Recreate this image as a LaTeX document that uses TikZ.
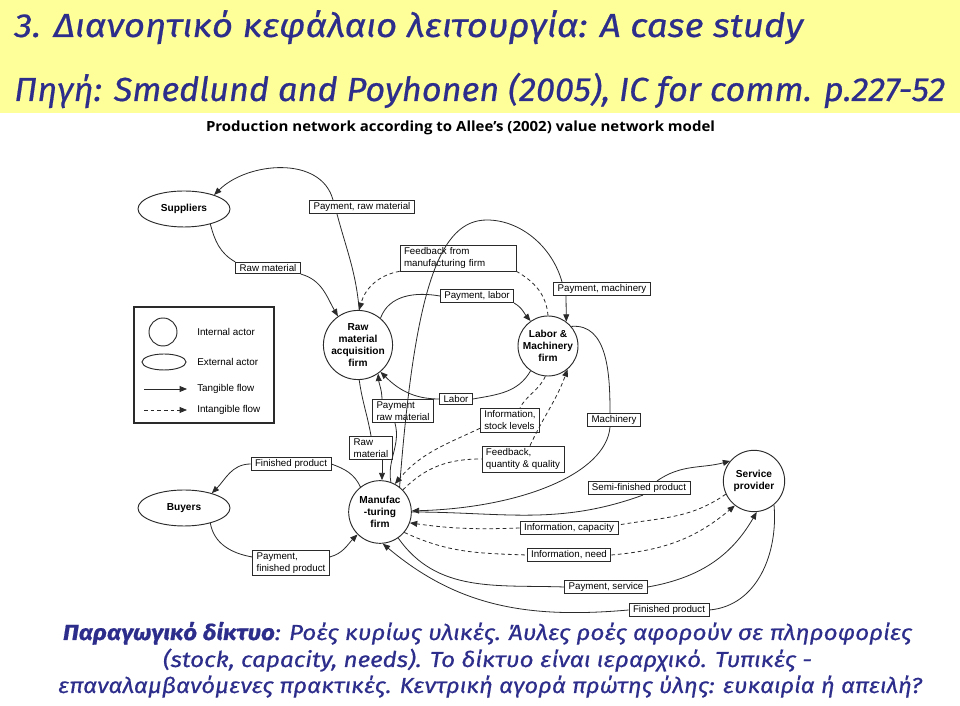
\documentclass[tikz,border=0pt]{standalone}
\usepackage{fontspec}
\usepackage{graphicx}
\setmainfont{Liberation Sans}
\newfontfamily\fira{Fira Sans}[FakeBold=0.5]
\newfontfamily\osans{Open Sans}
\usetikzlibrary{shapes.geometric,arrows.meta}
\newdimen\pxu \pxu=0.75pt
\newcommand\fitw[2]{\resizebox{#1\pxu}{\height}{#2}}
\definecolor{ttl}{HTML}{2D2D8C}
\definecolor{band}{HTML}{FFFF99}
\definecolor{ink}{HTML}{2A2A2A}
\newcommand\lblfont{\fontsize{7.3}{9.4}\selectfont}
\newcommand\actfont{\bfseries\fontsize{7.6}{9.2}\selectfont}
\begin{document}
\begin{tikzpicture}[x=0.75pt,y=0.75pt,
  conn/.style={line width=0.6pt, draw=ink},
  arr/.style={conn, -{Triangle[length=5.5pt,width=4.4pt]}},
  dsh/.style={dash pattern=on 2.8pt off 2.2pt},
  lbl/.style={draw=ink, fill=white, line width=0.6pt, font=\lblfont, inner xsep=3pt, inner ysep=1.6pt, align=left},
  actor/.style={circle, draw=ink, line width=0.7pt, font=\actfont, align=center, inner sep=0pt, minimum size=45pt},
  extactor/.style={ellipse, draw=ink, line width=0.7pt, font=\actfont, inner sep=0pt, minimum width=69pt, minimum height=27pt},
  legtxt/.style={anchor=west, inner sep=0pt, font=\fontsize{7.4}{9}\selectfont},
  ttltxt/.style={inner sep=0pt, text=ttl}]
\fill[white] (0,0) rectangle (960,706);
\useasboundingbox (0,0) rectangle (960,706);
\fill[band] (0,593) rectangle (960,706);

% titles
\node[ttltxt, anchor=base west] (t1) at (14,669) {\fitw{789}{\fira\itshape\fontsize{25}{30}\selectfont 3. Διανοητικό κεφάλαιο λειτουργία: A case study}};
\node[ttltxt, anchor=base west] (t2) at (14,605) {\fitw{931}{\fira\itshape\fontsize{25}{30}\selectfont Πηγή: Smedlund and Poyhonen (2005), IC for comm. p.227-52}};
\node[anchor=base, inner sep=0pt] (hd) at (460.5,574) {\fitw{509}{\osans\bfseries\fontsize{10.5}{12}\selectfont Production network according to Allee’s (2002) value network model}};

% bottom text
\node[ttltxt, anchor=base] (b1) at (487.5,66) {\fitw{849}{\fira\itshape\fontsize{16.3}{20}\selectfont \textbf{Παραγωγικό δίκτυο}: Ροές κυρίως υλικές. Άυλες ροές αφορούν σε πληροφορίες}};
\node[ttltxt, anchor=base] (b2) at (487.5,39) {\fitw{649}{\fira\itshape\fontsize{16.3}{20}\selectfont (stock, capacity, needs). Το δίκτυο είναι ιεραρχικό. Τυπικές -}};
\node[ttltxt, anchor=base] (b3) at (490,13) {\fitw{864}{\fira\itshape\fontsize{16.3}{20}\selectfont επαναλαμβανόμενες πρακτικές. Κεντρική αγορά πρώτης ύλης: ευκαιρία ή απειλή?}};

% legend
\draw[draw=ink, line width=0.9pt] (134,283) rectangle (274,399);
\node[circle, draw=ink, line width=0.7pt, minimum size=21pt, inner sep=0pt] (lgc) at (163,374) {};
\node[ellipse, draw=ink, line width=0.7pt, minimum width=33pt, minimum height=12pt, inner sep=0pt] (lge) at (164,344) {};
\coordinate (lt1) at (144,317); \coordinate (lt2) at (187,317);
\coordinate (li1) at (144,296); \coordinate (li2) at (187,296);
\draw[arr] (lt1) -- (lt2);
\draw[arr,dsh] (li1) -- (li2);
\node[legtxt] (lg1) at (197,374) {Internal actor};
\node[legtxt] (lg2) at (197,344) {External actor};
\node[legtxt] (lg3) at (197,317) {Tangible flow};
\node[legtxt] (lg4) at (197,296) {Intangible flow};

% actors
\node[extactor] (sup) at (184,497) {Suppliers};
\node[extactor] (buy) at (184,198) {Buyers};
\node[actor] (raw) at (358,361) {Raw\\material\\acquisition\\firm};
\node[actor] (lab) at (548,360) {Labor \&\\Machinery\\firm};
\node[actor, minimum size=47pt] (man) at (380,194) {Manufac\\-turing\\firm};
\node[actor, minimum size=46pt] (srv) at (754,225) {Service\\provider};

% flow labels
\node[lbl] (L1) at (362,499) {Payment, raw material};
\node[lbl] (L2) at (268,438) {Raw material};
\node[lbl, text width=81pt] (L3) at (458,448) {Feedback from\\manufacturing firm};
\node[lbl] (L4) at (477,410) {Payment, labor};
\node[lbl] (L5) at (602,417) {Payment, machinery};
\node[lbl] (L6) at (403,295) {Payment\\raw material};
\node[lbl] (L7) at (456,307) {Labor};
\node[lbl] (L8) at (510,286) {Information,\\stock levels};
\node[lbl] (L9) at (614,286) {Machinery};
\node[lbl] (L10) at (371,258) {Raw\\material};
\node[lbl] (L11) at (291,242) {Finished product};
\node[lbl] (L12) at (523,247) {Feedback,\\quantity \& quality};
\node[lbl] (L13) at (639,218) {Semi-finished product};
\node[lbl] (L14) at (569,178) {Information, capacity};
\node[lbl] (L15) at (569,151) {Information, need};
\node[lbl] (L16) at (606,119) {Payment, service};
\node[lbl] (L17) at (669,96) {Finished product};
\node[lbl] (L18) at (291,143) {Payment,\\finished product};

% Payment, raw material (raw -> suppliers)
\draw[conn] (raw.88) to[out=95,in=-75] ([xshift=-25\pxu]L1.south);
\draw[arr] ([xshift=-29\pxu]L1.north) to[out=105,in=45] (sup.25);
% Raw material (suppliers -> raw)
\draw[conn] (sup.-30) to[out=-75,in=150] (L2.north west);
\draw[arr] (L2.south east) to[out=-15,in=120] (raw.125);
% Feedback from manufacturing firm
\draw[conn,dsh] (lab.90) to[out=95,in=-30] (L3.south east);
\draw[arr,dsh] (L3.south west) to[out=190,in=75] (raw.88);
% Payment, labor
\draw[conn] (raw.50) to[out=70,in=170] (L4.west);
\draw[arr] (L4.south east) to[out=-30,in=130] (lab.125);
% Labor
\draw[conn] (lab.235) to[out=240,in=10] (L7.east);
\draw[arr] (L7.west) to[out=180,in=-45] (raw.-50);
% Payment, machinery
\coordinate (pk) at (487,486);
\draw[conn] (man.52) .. controls (415,420) and (440,486) .. (pk) .. controls (520,486) and (552,460) .. ([xshift=-40\pxu]L5.north);
\draw[arr] ([xshift=-36\pxu]L5.south) -- (lab.53);
% Payment raw material (man -> raw)
\draw[conn] (man.70) to[out=100,in=-75] ([xshift=-8\pxu]L6.south);
\draw[arr] ([xshift=-21\pxu]L6.north) to[out=92,in=-85] (raw.-55);
% Raw material (raw -> man)
\draw[conn] (raw.-88) to[out=-82,in=100] (L10.north);
\draw[arr] ([xshift=11\pxu]L10.south) -- ([xshift=2\pxu]man.north);
% Information, stock levels
\draw[conn,dsh] (lab.-95) to[out=-115,in=60] ([xshift=10\pxu]L8.north);
\draw[arr,dsh] ([yshift=4\pxu]L8.south west) to[out=205,in=50] (man.62);
% Feedback, quantity & quality
\draw[conn,dsh] (man.44) to[out=45,in=180] (L12.west);
\draw[arr,dsh] ([xshift=7\pxu]L12.north) to[out=65,in=-110] (lab.-50);
% Machinery
\draw[conn] (lab.40) to[out=5,in=90] ([xshift=-4\pxu]L9.north);
\draw[arr] ([xshift=-4\pxu]L9.south) .. controls (606,232) and (520,198) .. (man.2);
% Semi-finished product
\draw[conn] (man.0) to[out=0,in=200] ([xshift=4\pxu]L13.south);
\draw[arr] ([xshift=18\pxu]L13.north) to[out=35,in=195] (srv.140);
% Information, capacity
\draw[conn,dsh] (srv.205) to[out=215,in=10] ([yshift=3\pxu]L14.east);
\draw[arr,dsh] (L14.west) to[out=182,in=-8] (man.-20);
% Information, need
\draw[conn,dsh] (man.-40) to[out=-25,in=178] (L15.west);
\draw[arr,dsh] (L15.east) to[out=5,in=220] (srv.232);
% Payment, service
\draw[conn] (man.-55) to[out=-55,in=178] (L16.west);
\draw[arr] (L16.east) to[out=10,in=-120] (srv.-85);
% Finished product (srv -> man)
\draw[conn] (srv.-50) to[out=-85,in=5] (L17.east);
\draw[arr] (L17.west) to[out=185,in=-40] (man.-85);
% Finished product (man -> buyers)
\draw[conn] (man.128) to[out=115,in=-20] (L11.east);
\draw[arr] (L11.west) to[out=180,in=45] (buy.28);
% Payment, finished product
\draw[conn] (buy.-30) to[out=-80,in=170] ([yshift=6\pxu]L18.west);
\draw[arr] ([yshift=6\pxu]L18.east) to[out=15,in=225] (man.225);
\end{tikzpicture}
\end{document}
